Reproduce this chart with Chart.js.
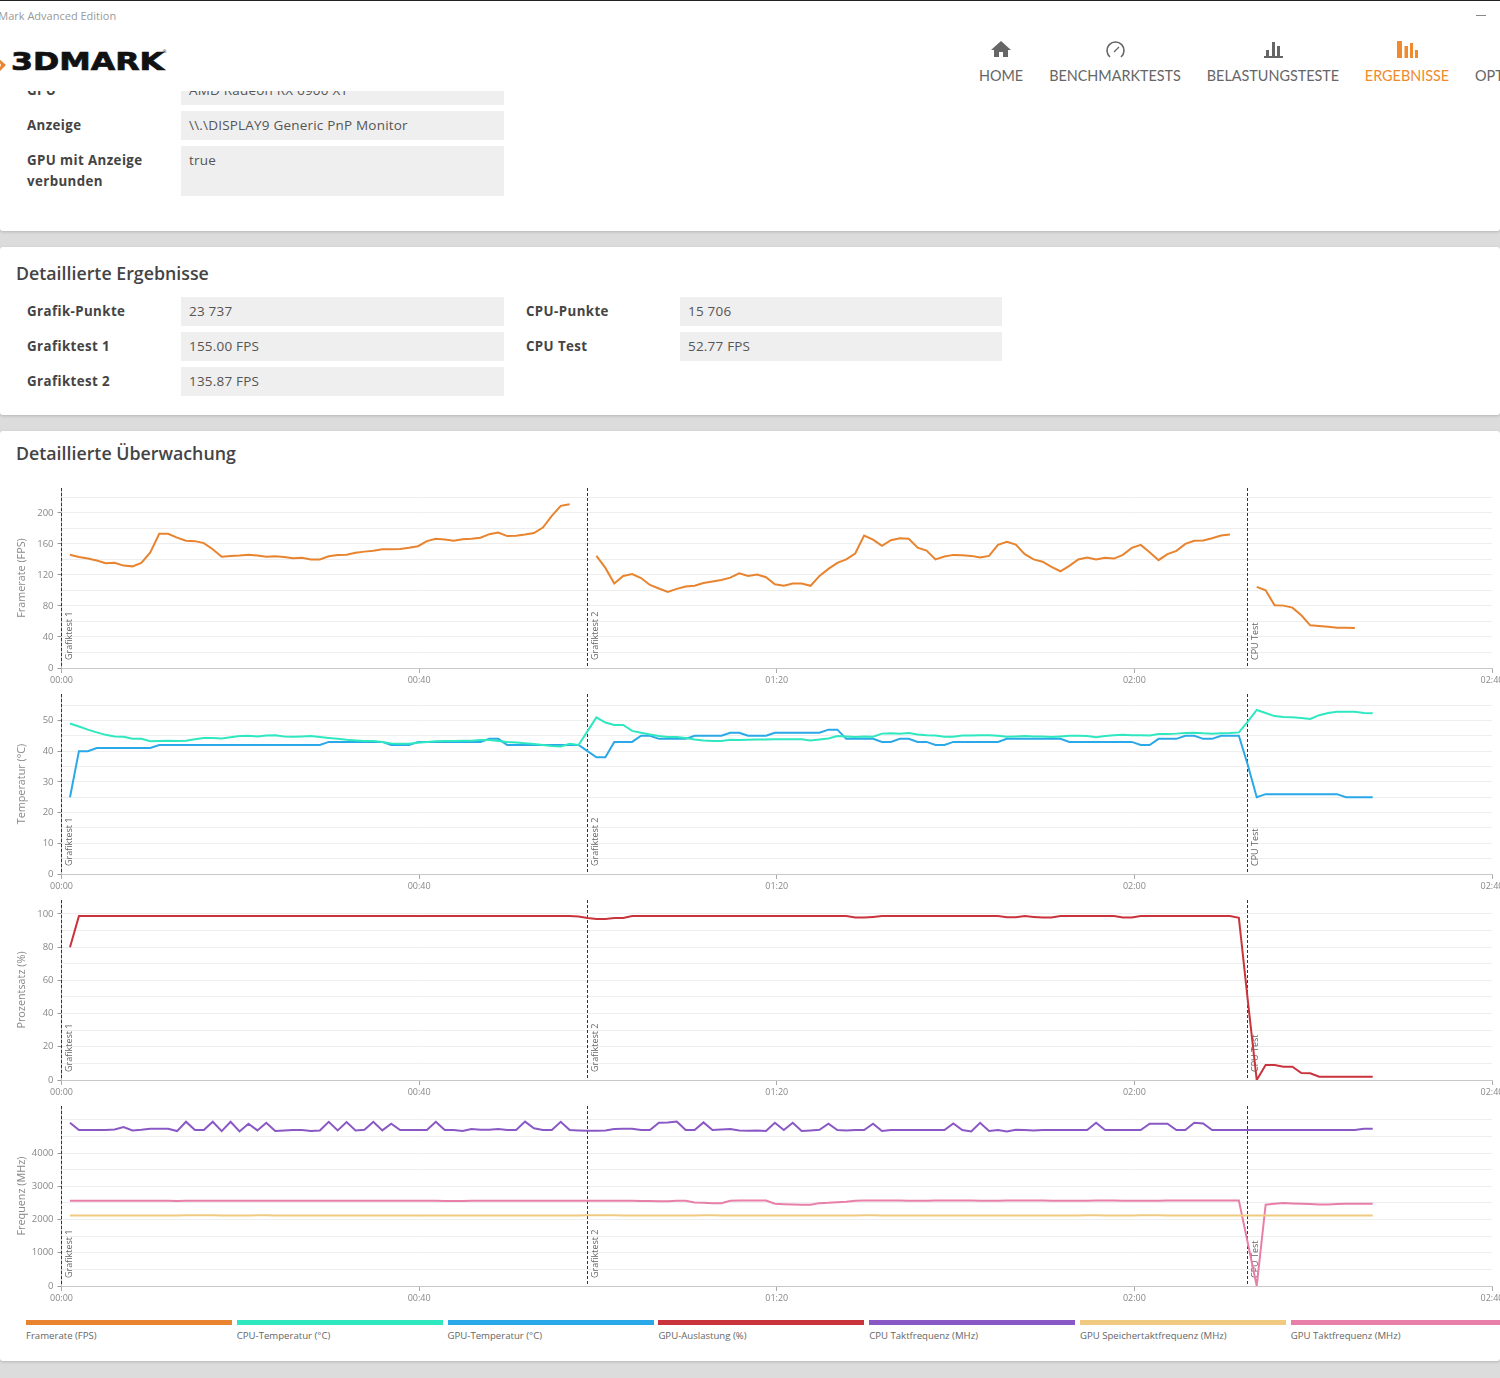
<!DOCTYPE html>
<html lang="de">
<head>
<meta charset="utf-8">
<title>3DMark</title>
<script src="https://cdn.jsdelivr.net/npm/chart.js@4/dist/chart.umd.min.js"></script>
<style>
html, body { margin: 0; padding: 0; }
body { width: 1500px; height: 1378px; overflow: hidden; background: #dcdcdc; font-family: "Open Sans", sans-serif; position: relative; }
.panel { position: absolute; left: 0; width: 1500px; background: #fff; border-radius: 3px; box-shadow: 0 1px 3px rgba(0,0,0,.18); }
.abs { position: absolute; white-space: nowrap; }
.head { position: absolute; left: 0; top: 0; width: 1500px; height: 91px; background: #fff; border-top: 1px solid #222; box-sizing: border-box; z-index: 2; }
.box { position: absolute; background: #efefef; color: #555; font-size: 13.5px; line-height: 28px; padding-left: 8px; box-sizing: border-box; letter-spacing: .2px; }
.lbl { position: absolute; left: 27px; color: #444; font-weight: 700; font-size: 13.3px; line-height: 21px; letter-spacing: .4px; }
h2 { position: absolute; left: 16px; margin: 0; color: #444; font-size: 17.8px; font-weight: 600; line-height: 24px; }
.nav { position: absolute; top: 65px; color: #666; font-family: Lato, sans-serif; font-size: 14.4px; line-height: 20px; transform: translateX(-50%); white-space: nowrap; }
canvas { position: absolute; left: 0; }
.key { position: absolute; top: 1320px; height: 5px; }
.keytxt { position: absolute; top: 1329px; font-size: 9.6px; line-height: 13px; color: #666; white-space: nowrap; }
</style>
</head>
<body>
<div class="panel" style="top:0;height:231px"></div>
<div class="panel" style="top:247px;height:168px"></div>
<div class="panel" style="top:431px;height:930px"></div>

<div class="head">
  <div class="abs" style="left:-16px;top:7px;font-size:11px;line-height:16px;color:#999">3DMark Advanced Edition</div>
  <div class="abs" style="left:1476px;top:14px;width:10px;height:1px;background:#888"></div>
  <svg class="abs" style="left:0;top:38px" width="175" height="40">
    <path d="M-3 18 L6 26 L-3 35 L1 26 Z" fill="#e8842f"/>
    <text x="11" y="31" font-family="DejaVu Sans" font-weight="bold" font-size="24" fill="#111" stroke="#111" stroke-width=".7" textLength="153" lengthAdjust="spacingAndGlyphs">3DMARK</text>
    <text x="162" y="14" font-family="DejaVu Sans" font-size="5" fill="#333">®</text>
  </svg>
  <svg class="abs" style="left:990px;top:40px" width="22" height="18"><path d="M11 0 L21 9 H18 V16 H13 V11 H9 V16 H4 V9 H1 Z" fill="#666"/></svg>
  <svg class="abs" style="left:1104px;top:39px" width="22" height="20"><path d="M6 17 A8.500 8.500 0 1 1 17 17" fill="none" stroke="#666" stroke-width="1.6"/><path d="M10 12 L15 7" stroke="#666" stroke-width="1.2"/></svg>
  <svg class="abs" style="left:1264px;top:40px" width="20" height="18"><path d="M0 15 H19 V17 H0 Z M2 9 H5 V15 H2 Z M8 1 H11 V15 H8 Z M13 5 H16 V15 H13 Z" fill="#666"/></svg>
  <svg class="abs" style="left:1396px;top:39px" width="24" height="20"><path d="M1 1 H6 V18 H1 Z M8.500 6 H12 V18 H8.500 Z M14 3 H17 V18 H14 Z M19 10 H22 V18 H19 Z" fill="#f08a2c"/></svg>
  <div class="nav" style="left:1001px">HOME</div>
  <div class="nav" style="left:1115px">BENCHMARKTESTS</div>
  <div class="nav" style="left:1273px">BELASTUNGSTESTE</div>
  <div class="nav" style="left:1407px;color:#f08a2c">ERGEBNISSE</div>
  <div class="nav" style="left:1475px;transform:none">OPTIONEN</div>
</div>

<div class="lbl" style="top:80px">GPU</div>
<div class="box" style="left:181px;top:76px;width:323px;height:29px">AMD Radeon RX 6900 XT</div>
<div class="lbl" style="top:115px">Anzeige</div>
<div class="box" style="left:181px;top:111px;width:323px;height:29px">\\.\DISPLAY9 Generic PnP Monitor</div>
<div class="lbl" style="top:150px;width:130px">GPU mit Anzeige verbunden</div>
<div class="box" style="left:181px;top:146px;width:323px;height:50px">true</div>

<h2 style="top:261px">Detaillierte Ergebnisse</h2>
<div class="lbl" style="top:301px">Grafik-Punkte</div>
<div class="box" style="left:181px;top:297px;width:323px;height:29px">23 737</div>
<div class="lbl" style="top:336px">Grafiktest 1</div>
<div class="box" style="left:181px;top:332px;width:323px;height:29px">155.00 FPS</div>
<div class="lbl" style="top:371px">Grafiktest 2</div>
<div class="box" style="left:181px;top:367px;width:323px;height:29px">135.87 FPS</div>
<div class="lbl" style="left:526px;top:301px">CPU-Punkte</div>
<div class="box" style="left:680px;top:297px;width:322px;height:29px">15 706</div>
<div class="lbl" style="left:526px;top:336px">CPU Test</div>
<div class="box" style="left:680px;top:332px;width:322px;height:29px">52.77 FPS</div>

<h2 style="top:441px">Detaillierte Überwachung</h2>

<canvas id="fpsChart" width="1500" height="206" style="top:488px"></canvas>
<canvas id="tempChart" width="1500" height="206" style="top:694px"></canvas>
<canvas id="loadChart" width="1500" height="206" style="top:900px"></canvas>
<canvas id="freqChart" width="1500" height="206" style="top:1106px"></canvas>
<div id="legendRow"></div>

<script>
// one sample about every second
var sampleStart = 0.95;
var sampleStep = 0.998;

var markerNames = ['Grafiktest 1', 'Grafiktest 2', 'CPU Test'];
var markerTimes = [0, 58.84, 132.66];

var framerate = [
  146,143,141,138.5,135,135.5,132,131,135.5,149,
  173,173,168,164,163.5,161,153,143.5,144.5,145,
  146,145,143.5,144,143,141.5,142,140,140,144,
  145.5,146,148.5,150,151,153,153,153.5,155,157,
  163.5,166.5,165.5,164,166,166.5,168,172.5,174.5,170,
  170.5,172,174,181,196,209,211,null,null,144.5,
  129,109,118.7,121,116,107,102.5,98,102,105,
  106,109.5,111.5,113.5,116.5,122,118.7,120.5,117,108,
  106,109,109,106,118.7,127.7,135.5,140,147.5,170.7,
  165.5,157.5,164.7,167.3,166.5,155,151.4,140,143.7,145.8,
  145.4,144.5,142.4,144.5,158.7,162.6,159,146.7,140,137,
  130.3,124.7,131.6,139.8,142.4,139.8,142,141,145.8,154.8,
  158.7,149.2,139,146.7,151,160,163.9,164.3,167.3,170.8,
  172,null,null,104.5,100.2,80.9,80.4,77.8,68,55,
  54.2,53.3,52,52,51.6,null,null
];
var cpuTemp = [
  49,48,47,46.1,45.3,44.8,44.7,44,44,43.2,
  43.3,43.4,43.3,43.4,43.9,44.3,44.3,44.1,44.5,44.9,
  45,44.8,45.1,45.2,44.8,44.7,44.8,44.9,44.6,44.3,
  44,43.7,43.5,43.3,43.3,43,42.5,42.4,42.4,42.7,
  43,43.2,43.3,43.3,43.4,43.4,43.6,43.6,43.3,43,
  42.8,42.6,42.3,42,41.7,41.5,42.4,42,46.5,51,
  49.3,48.5,48.5,46.6,46,45.4,44.9,44.6,44.6,44.3,
  43.8,43.5,43.3,43.3,43.7,43.6,43.7,43.8,43.8,43.9,
  43.9,43.9,43.9,43.5,43.8,44.1,44.9,44.8,44.6,44.8,
  44.7,45.7,45.8,45.7,45.9,45.4,45.2,45.1,44.7,44.7,
  45.1,45.1,45.2,45.2,45,44.7,44.8,44.9,44.8,44.8,
  44.6,44.8,45,45,44.9,44.5,44.9,45.2,45.3,45.2,
  45.2,45.1,45.6,45.6,45.7,45.9,46,45.8,45.7,45.8,
  45.9,46.1,49.6,53.4,52.4,51.4,51.1,51,50.8,50.5,
  51.7,52.4,52.8,52.8,52.8,52.4,52.3
];
var gpuTemp = [
  25,40,40,41,41,41,41,41,41,41,
  42,42,42,42,42,42,42,42,42,42,
  42,42,42,42,42,42,42,42,42,43,
  43,43,43,43,43,43,42,42,42,43,
  43,43,43,43,43,43,43,44,44,42,
  42,42,42,42,42,42,42,42,40,38,
  38,43,43,43,45,45,44,44,44,44,
  45,45,45,45,46,46,45,45,45,46,
  46,46,46,46,46,47,47,44,44,44,
  44,43,43,44,44,43,43,42,42,43,
  43,43,43,43,43,44,44,44,44,44,
  44,44,43,43,43,43,43,43,43,43,
  42,42,44,44,44,45,45,44,44,45,
  45,45,35.5,25,26,26,26,26,26,26,
  26,26,26,25,25,25,25
];
var gpuLoad = [
  80,98.7,98.7,98.7,98.7,98.7,98.7,98.7,98.7,98.7,
  98.7,98.7,98.7,98.7,98.7,98.7,98.7,98.7,98.7,98.7,
  98.7,98.7,98.7,98.7,98.7,98.7,98.7,98.7,98.7,98.7,
  98.7,98.7,98.7,98.7,98.7,98.7,98.7,98.7,98.7,98.7,
  98.7,98.7,98.7,98.7,98.7,98.7,98.7,98.7,98.7,98.7,
  98.7,98.7,98.7,98.7,98.7,98.7,98.7,98.4,97.5,97,
  97,97.5,97.5,98.7,98.7,98.7,98.7,98.7,98.7,98.7,
  98.7,98.7,98.7,98.7,98.7,98.7,98.7,98.7,98.7,98.7,
  98.7,98.7,98.7,98.7,98.7,98.7,98.7,98.7,97.8,97.8,
  98.2,98.7,98.7,98.7,98.7,98.7,98.7,98.7,98.7,98.7,
  98.7,98.7,98.7,98.7,98.7,98,98,98.7,98.2,97.8,
  97.8,98.7,98.7,98.7,98.7,98.7,98.7,98.7,97.8,97.8,
  98.7,98.7,98.7,98.7,98.7,98.7,98.7,98.7,98.7,98.7,
  98.7,97.7,48,0,9,9,8,8,4.2,4,
  2,2,2,2,2,2,2
];
var cpuClock = [
  4915,4695,4695,4695,4695,4715,4785,4685,4705,4735,
  4735,4735,4665,4945,4695,4695,4945,4665,4945,4655,
  4885,4685,4915,4665,4685,4695,4695,4665,4685,4945,
  4685,4935,4685,4705,4945,4685,4885,4695,4695,4695,
  4695,4945,4695,4695,4665,4725,4705,4705,4725,4700,
  4700,4950,4750,4700,4700,4945,4695,4685,4675,4675,
  4685,4725,4735,4735,4695,4695,4915,4925,4955,4695,
  4695,4925,4695,4715,4725,4685,4675,4685,4665,4915,
  4695,4915,4665,4685,4705,4885,4695,4685,4695,4695,
  4885,4665,4695,4695,4695,4695,4695,4695,4695,4895,
  4695,4655,4915,4665,4695,4655,4705,4695,4685,4695,
  4695,4695,4695,4695,4695,4915,4695,4695,4695,4695,
  4695,4885,4885,4885,4695,4695,4915,4895,4695,4695,
  4695,4695,4695,4695,4695,4695,4695,4695,4695,4695,
  4695,4695,4695,4695,4695,4735,4735
];
var memClock = [
  2125,2125,2125,2125,2125,2125,2125,2125,2125,2125,
  2125,2125,2125,2130,2130,2130,2130,2125,2125,2125,
  2125,2130,2130,2125,2125,2125,2125,2125,2125,2125,
  2125,2125,2125,2125,2125,2125,2125,2125,2125,2125,
  2125,2125,2125,2125,2125,2125,2125,2125,2125,2125,
  2125,2125,2125,2125,2125,2125,2125,2125,2130,2130,
  2130,2130,2125,2125,2125,2125,2125,2125,2125,2125,
  2125,2130,2130,2125,2125,2125,2125,2125,2120,2120,
  2125,2125,2125,2125,2125,2125,2125,2125,2125,2130,
  2130,2125,2125,2125,2125,2125,2125,2125,2125,2125,
  2125,2125,2125,2125,2125,2125,2125,2125,2125,2125,
  2125,2125,2125,2125,2130,2130,2125,2125,2125,2125,
  2130,2130,2130,2125,2125,2125,2125,2125,2125,2125,
  2125,2125,2125,2125,2125,2125,2125,2125,2125,2125,
  2125,2125,2125,2125,2125,2125,2125
];
var gpuClock = [
  2565,2570,2570,2570,2570,2570,2570,2570,2570,2570,
  2570,2570,2560,2565,2570,2570,2570,2570,2570,2570,
  2570,2570,2570,2570,2570,2570,2570,2570,2570,2570,
  2570,2570,2570,2570,2570,2570,2570,2570,2570,2570,
  2570,2565,2560,2560,2560,2565,2570,2570,2570,2570,
  2570,2570,2570,2570,2570,2570,2570,2570,2570,2570,
  2565,2565,2565,2565,2560,2560,2555,2555,2565,2565,
  2515,2505,2495,2495,2565,2575,2575,2575,2575,2475,
  2465,2455,2445,2445,2495,2505,2525,2535,2565,2575,
  2575,2575,2575,2575,2570,2570,2570,2575,2575,2575,
  2575,2575,2570,2570,2570,2575,2575,2575,2575,2575,
  2570,2570,2570,2570,2570,2575,2575,2575,2570,2570,
  2570,2570,2570,2575,2575,2575,2575,2575,2575,2575,
  2575,2575,1294,0,2447,2477,2497,2487,2477,2467,
  2457,2457,2467,2477,2477,2477,2477
];

var seriesNames = ['Framerate (FPS)', 'CPU-Temperatur (°C)', 'GPU-Temperatur (°C)', 'GPU-Auslastung (%)', 'CPU Taktfrequenz (MHz)', 'GPU Speichertaktfrequenz (MHz)', 'GPU Taktfrequenz (MHz)'];
var seriesColors = ['#e8842f', '#2fe8c0', '#2ba8e8', '#c9343c', '#8a58c4', '#efca80', '#e87fa8'];

function points(values) {
    return values.map(function (v, i) {
        return { x: sampleStart + i * sampleStep, y: v };
    });
}

function clockLabel(sec) {
    var m = Math.floor(sec / 60);
    var s = sec % 60;
    return String(m).padStart(2, '0') + ':' + String(s).padStart(2, '0');
}

// dashed test markers with their rotated names
var markerPlugin = {
    id: 'testMarkers',
    beforeDatasetsDraw: function (chart) {
        var ctx = chart.ctx;
        var xScale = chart.scales.x;
        var area = chart.chartArea;
        ctx.save();
        markerTimes.forEach(function (t, i) {
            var px = Math.floor(xScale.getPixelForValue(t)) + 0.5;
            ctx.strokeStyle = '#333';
            ctx.lineWidth = 1;
            ctx.setLineDash([3, 2]);
            ctx.beginPath();
            ctx.moveTo(px, area.top);
            ctx.lineTo(px, area.bottom - 2);
            ctx.stroke();
            ctx.setLineDash([]);
            ctx.save();
            ctx.translate(px + 8, area.bottom - 8);
            ctx.rotate(-Math.PI / 2);
            ctx.fillStyle = '#666';
            ctx.font = '9px "Open Sans"';
            ctx.textAlign = 'left';
            ctx.textBaseline = 'middle';
            ctx.fillText(markerNames[i], 0, 0);
            ctx.restore();
        });
        ctx.restore();
    }
};

function makeChart(id, title, maxY, gridStep, labelStep, labelMax, sets) {
    return new Chart(document.getElementById(id), {
        type: 'line',
        data: {
            datasets: sets.map(function (s) {
                return {
                    label: seriesNames[s[0]],
                    data: points(s[1]),
                    borderColor: seriesColors[s[0]],
                    borderWidth: 2,
                    pointRadius: 0,
                    tension: 0,
                    spanGaps: false
                };
            })
        },
        options: {
            responsive: false,
            animation: false,
            layout: { padding: { right: 8 } },
            plugins: { legend: { display: false }, tooltip: { enabled: false } },
            scales: {
                x: {
                    type: 'linear',
                    min: 0,
                    max: 160,
                    afterFit: function (scale) {
                        scale.height = 26;
                        scale.paddingRight = 0;
                        scale.paddingLeft = 0;
                    },
                    border: { color: '#c8c8c8' },
                    grid: { drawOnChartArea: false, tickLength: 5, tickColor: '#aaa' },
                    ticks: {
                        stepSize: 40,
                        maxRotation: 0,
                        padding: 2,
                        color: '#888',
                        font: { family: 'Open Sans', size: 9 },
                        callback: clockLabel
                    }
                },
                y: {
                    min: 0,
                    max: maxY,
                    // the library stretches the step when max is not a multiple of it
                    afterBuildTicks: function (scale) {
                        var list = [];
                        for (var v = 0; v <= maxY; v += gridStep) {
                            list.push({ value: v });
                        }
                        scale.ticks = list;
                    },
                    afterFit: function (scale) {
                        scale.width = 61.5;
                        scale.paddingTop = 0;
                        scale.paddingBottom = 0;
                    },
                    border: { color: '#bbb' },
                    title: {
                        display: true,
                        text: title,
                        color: '#888',
                        padding: { top: 15, bottom: 0 },
                        font: { family: 'Open Sans', size: 10.8 }
                    },
                    grid: {
                        color: '#eeeeee',
                        tickLength: 4,
                        tickColor: function (c) {
                            var v = c.tick.value;
                            return (v % labelStep === 0 && v <= labelMax) ? '#999' : 'rgba(0,0,0,0)';
                        }
                    },
                    ticks: {
                        includeBounds: false,
                        autoSkip: false,
                        padding: 4,
                        color: '#888',
                        font: { family: 'Open Sans', size: 9.5 },
                        callback: function (v) {
                            return (v % labelStep === 0 && v <= labelMax) ? String(v) : '';
                        }
                    }
                }
            }
        },
        plugins: [markerPlugin]
    });
}

makeChart('fpsChart', 'Framerate (FPS)', 232, 20, 40, 200, [[0, framerate]]);
makeChart('tempChart', 'Temperatur (°C)', 58.6, 5, 10, 50, [[1, cpuTemp], [2, gpuTemp]]);
makeChart('loadChart', 'Prozentsatz (%)', 108.4, 10, 20, 100, [[3, gpuLoad]]);
makeChart('freqChart', 'Frequenz (MHz)', 5420, 500, 1000, 4000, [[5, memClock], [6, gpuClock], [4, cpuClock]]);

// legend strip under the charts
var legendRow = document.getElementById('legendRow');
seriesNames.forEach(function (name, i) {
    var left = 26 + i * 210.8;
    var bar = document.createElement('div');
    bar.className = 'key';
    bar.style.left = left + 'px';
    bar.style.width = (i === seriesNames.length - 1 ? 209 : 206) + 'px';
    bar.style.background = seriesColors[i];
    var txt = document.createElement('div');
    txt.className = 'keytxt';
    txt.style.left = left + 'px';
    txt.textContent = name;
    legendRow.appendChild(bar);
    legendRow.appendChild(txt);
});
</script>
</body>
</html>
